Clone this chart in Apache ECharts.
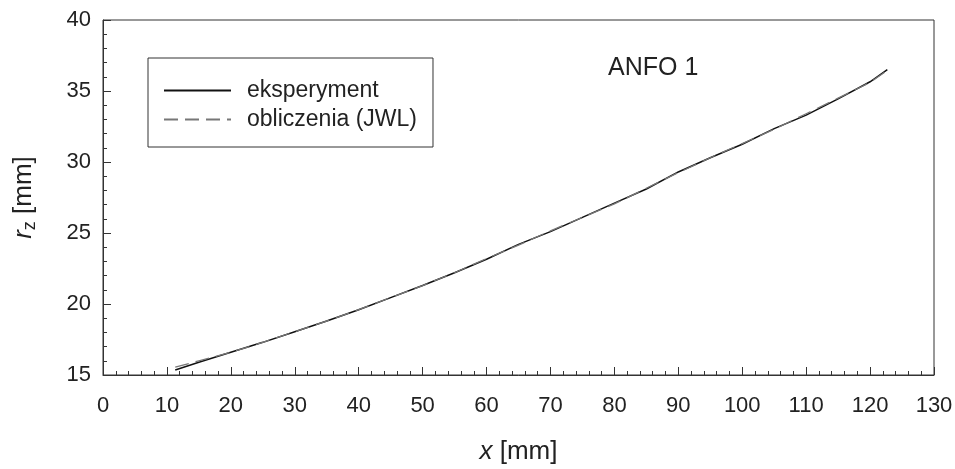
<!DOCTYPE html>
<html>
<head>
<meta charset="utf-8">
<script src="https://cdn.jsdelivr.net/npm/echarts@6/dist/echarts.min.js"></script>
<style>
  html, body { margin: 0; padding: 0; background: #fff; }
  #chart { width: 955px; height: 469px; }
</style>
</head>
<body>
<div id="chart"></div>
<script>
  // odczyty z wykresu
  var xVals = [11.3, 15, 20, 25, 30, 35, 40, 45, 50, 55, 60, 65, 70, 75, 80, 85, 90, 95, 100, 105, 110, 115, 120, 122.7];
  var eksperyment = [15.35, 15.9, 16.6, 17.3, 18.05, 18.8, 19.6, 20.45, 21.3, 22.2, 23.15, 24.2, 25.1, 26.1, 27.1, 28.1, 29.3, 30.3, 31.25, 32.35, 33.3, 34.45, 35.65, 36.5];
  var obliczenia = [15.55, 16.0, 16.6, 17.3, 18.05, 18.8, 19.6, 20.45, 21.3, 22.2, 23.2, 24.15, 25.15, 26.1, 27.05, 28.15, 29.25, 30.3, 31.3, 32.3, 33.4, 34.5, 35.6, 36.45];
  var seriesNames = ['eksperyment', 'obliczenia (JWL)'];
  var xTicks = { min: 0, max: 130, interval: 10 };
  var yTicks = { min: 15, max: 40, interval: 5 };

  function pairs(ys) {
    return xVals.map(function (x, i) { return [x, ys[i]]; });
  }

  var font = '"Liberation Sans", Arial, sans-serif';
  var textColor = '#222';

  var chart = echarts.init(document.getElementById('chart'));
  chart.setOption({
    animation: false,
    textStyle: { fontFamily: font },
    grid: {
      left: 103,
      right: 21,
      top: 20,
      bottom: 94,
      outerBoundsMode: 'none',
      show: true,
      borderColor: '#333',
      borderWidth: 1
    },
    legend: {
      left: 148,
      top: 58,
      orient: 'vertical',
      data: seriesNames,
      itemWidth: 67,
      itemHeight: 14,
      itemGap: 6,
      padding: [21, 16, 16, 15],
      borderColor: '#333',
      borderWidth: 1,
      borderRadius: 0,
      itemStyle: { opacity: 0 },
      textStyle: { fontSize: 23, color: textColor, fontFamily: font, padding: [0, 0, 0, 11] }
    },
    graphic: [{
      type: 'text',
      left: 608,
      top: 56,
      style: { text: 'ANFO 1', fontSize: 25, fill: textColor, fontFamily: font }
    }],
    xAxis: {
      type: 'value',
      min: xTicks.min,
      max: xTicks.max,
      interval: xTicks.interval,
      name: '{i|x} [mm]',
      nameLocation: 'middle',
      nameGap: 64,
      nameTextStyle: {
        fontSize: 26,
        color: textColor,
        rich: { i: { fontStyle: 'italic', fontSize: 26, color: textColor, fontFamily: font } }
      },
      axisLine: { lineStyle: { color: '#333', width: 1 } },
      axisTick: { inside: true, length: 8, lineStyle: { color: '#333' } },
      minorTick: { show: true, splitNumber: 5, length: 4, lineStyle: { color: '#333' } },
      splitLine: { show: false },
      axisLabel: { fontSize: 22, color: textColor, margin: 20 }
    },
    yAxis: {
      type: 'value',
      min: yTicks.min,
      max: yTicks.max,
      interval: yTicks.interval,
      name: '{i|r}{s|z} [mm]',
      nameLocation: 'middle',
      nameGap: 64,
      nameRotate: 90,
      nameTextStyle: {
        fontSize: 26,
        color: textColor,
        rich: {
          i: { fontStyle: 'italic', fontSize: 26, color: textColor, fontFamily: font },
          s: { fontSize: 18, color: textColor, fontFamily: font, verticalAlign: 'bottom', padding: [12, 0, 0, 0] }
        }
      },
      axisLine: { show: true, lineStyle: { color: '#333', width: 1 } },
      axisTick: { inside: true, length: 8, lineStyle: { color: '#333' } },
      minorTick: { show: true, splitNumber: 5, length: 4, lineStyle: { color: '#333' } },
      splitLine: { show: false },
      axisLabel: { fontSize: 22, color: textColor, margin: 12 }
    },
    series: [
      {
        name: seriesNames[0],
        type: 'line',
        symbol: 'none',
        data: pairs(eksperyment),
        lineStyle: { color: '#111', width: 1.5 },
        itemStyle: { color: '#111' },
        z: 3
      },
      {
        name: seriesNames[1],
        type: 'line',
        symbol: 'none',
        data: pairs(obliczenia),
        lineStyle: { color: '#777', width: 1.3, type: [14, 7] },
        itemStyle: { color: '#777' },
        z: 4
      }
    ]
  });
</script>
</body>
</html>
